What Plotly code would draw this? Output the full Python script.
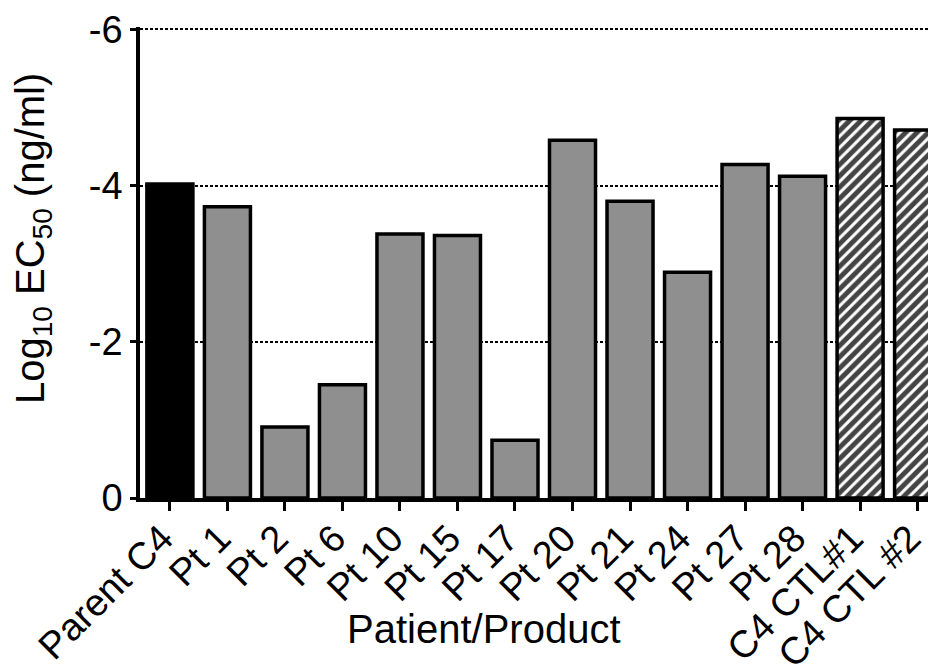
import plotly.graph_objects as go

categories = ["Parent C4", "Pt 1", "Pt 2", "Pt 6", "Pt 10", "Pt 15", "Pt 17",
              "Pt 20", "Pt 21", "Pt 24", "Pt 27", "Pt 28", "C4 CTL#1", "C4 CTL #2"]
values = [-4.02, -3.73, -0.91, -1.45, -3.38, -3.36, -0.74,
          -4.58, -3.80, -2.89, -4.27, -4.12, -4.86, -4.71]
fill_colors = ["#000000"] + ["#8f8f8f"] * 11 + ["#ffffff", "#ffffff"]
patterns = [""] * 12 + ["/", "/"]
y_ticks = [0, -2, -4, -6]

font = "Arial, Liberation Sans, sans-serif"

fig = go.Figure()
fig.add_trace(go.Bar(
    x=list(range(len(categories))),
    y=values,
    marker=dict(
        color=fill_colors,
        line=dict(color="black", width=3.5),
        pattern=dict(shape=patterns, fgcolor="#000000", fgopacity=1, bgcolor="white",
                     size=8, solidity=0.62, fillmode="overlay"),
    ),
    width=0.8,
    showlegend=False,
))

fig.update_layout(
    width=928, height=661,
    margin=dict(l=132, r=0, t=19, b=171),
    plot_bgcolor="white", paper_bgcolor="white",
    font=dict(family=font, color="black", size=38),
    xaxis=dict(
        range=[-0.52, 13.32],
        tickmode="array",
        tickvals=list(range(len(categories))),
        ticktext=categories,
        tickangle=-45,
        ticks="outside", ticklen=9, tickwidth=3, tickcolor="black",
        ticklabelstandoff=-10,
        ticklabelshift=-8,
        ticklabeloverflow="allow",
        showline=True, linecolor="black", linewidth=3.5,
        showgrid=False, zeroline=False,
        tickfont=dict(size=38, family=font),
        automargin=False,
    ),
    yaxis=dict(
        range=[0, -6.03],
        tickmode="array",
        tickvals=y_ticks,
        ticktext=[str(v) for v in y_ticks],
        ticks="outside", ticklen=6, tickwidth=3, tickcolor="black",
        showline=True, linecolor="black", linewidth=3.5,
        showgrid=True, gridcolor="black", gridwidth=2, griddash="3px,2px",
        zeroline=False,
        tickfont=dict(size=38, family=font),
        automargin=False,
    ),
    annotations=[
        dict(text="Patient/Product", xref="paper", yref="paper",
             x=(484 - 140) / 796, y=-(629 - 498) / 471,
             xanchor="center", yanchor="middle", showarrow=False,
             font=dict(size=40, family=font, color="black")),
        dict(text="Log<sub>10</sub> EC<sub>50</sub> (ng/ml)", xref="paper", yref="paper",
             x=-(140 - 33) / 796, y=(498 - 239) / 471, textangle=-90,
             xanchor="center", yanchor="middle", showarrow=False,
             font=dict(size=40, family=font, color="black")),
    ],
)

fig.write_html("out.html")
